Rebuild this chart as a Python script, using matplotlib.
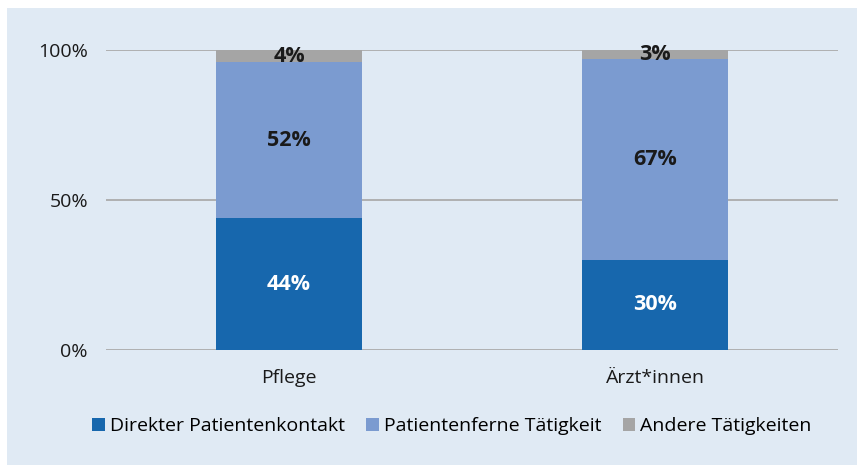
import matplotlib.pyplot as plt
from matplotlib.patches import Rectangle
import numpy as np

plt.rcParams['font.family'] = ['Open Sans', 'DejaVu Sans']

categories = ['Pflege', 'Ärzt*innen']
direkt = [44, 30]
fern = [52, 67]
andere = [4, 3]
series_names = ['Direkter Patientenkontakt', 'Patientenferne Tätigkeit', 'Andere Tätigkeiten']
colors = ['#1767AD', '#7B9BD0', '#A5A5A5']
text_colors = ['white', '#1a1a1a', '#1a1a1a']

W, H = 857, 465
fig = plt.figure(figsize=(W / 100, H / 100), dpi=100)
fig.patch.set_facecolor('white')
fig.patches.append(Rectangle((7 / W, 0), 1 - 7 / W, 1 - 8 / H,
                             transform=fig.transFigure, facecolor='#E0EAF4',
                             edgecolor='none', zorder=-10))

ax = fig.add_axes([106 / W, (H - 350) / H, (838 - 106) / W, 300 / H])
ax.set_facecolor('none')

x = np.arange(len(categories))
bottom = np.zeros(len(categories))
for vals, name, col, tcol in zip([direkt, fern, andere], series_names, colors, text_colors):
    ax.bar(x, vals, 0.4, bottom=bottom, color=col, label=name, zorder=3)
    for xi, v, b in zip(x, vals, bottom):
        ax.text(xi, b + v / 2, f'{v}%', ha='center', va='center',
                fontsize=15.5, fontweight='bold', color=tcol, zorder=4)
    bottom += vals

ax.set_xlim(-0.5, 1.5)
ax.set_ylim(0, 100)
ax.set_yticks([0, 50, 100])
ax.set_yticklabels(['0%', '50%', '100%'])
ax.set_xticks(x)
ax.set_xticklabels(categories)
ax.tick_params(axis='both', length=0, labelsize=14, colors='#1a1a1a')
ax.tick_params(axis='y', pad=13)
ax.tick_params(axis='x', pad=14)
ax.grid(True, axis='y', color='#ABABAB', linewidth=1.3, zorder=1)
for s in ax.spines.values():
    s.set_visible(False)

ax.legend(loc='center', bbox_to_anchor=(452 / W, (H - 426) / H),
          bbox_transform=fig.transFigure, ncol=3, frameon=False,
          fontsize=14, handlelength=0.65, handleheight=0.65,
          handletextpad=0.25, columnspacing=1.1)

fig.savefig('out.png', dpi=100)
